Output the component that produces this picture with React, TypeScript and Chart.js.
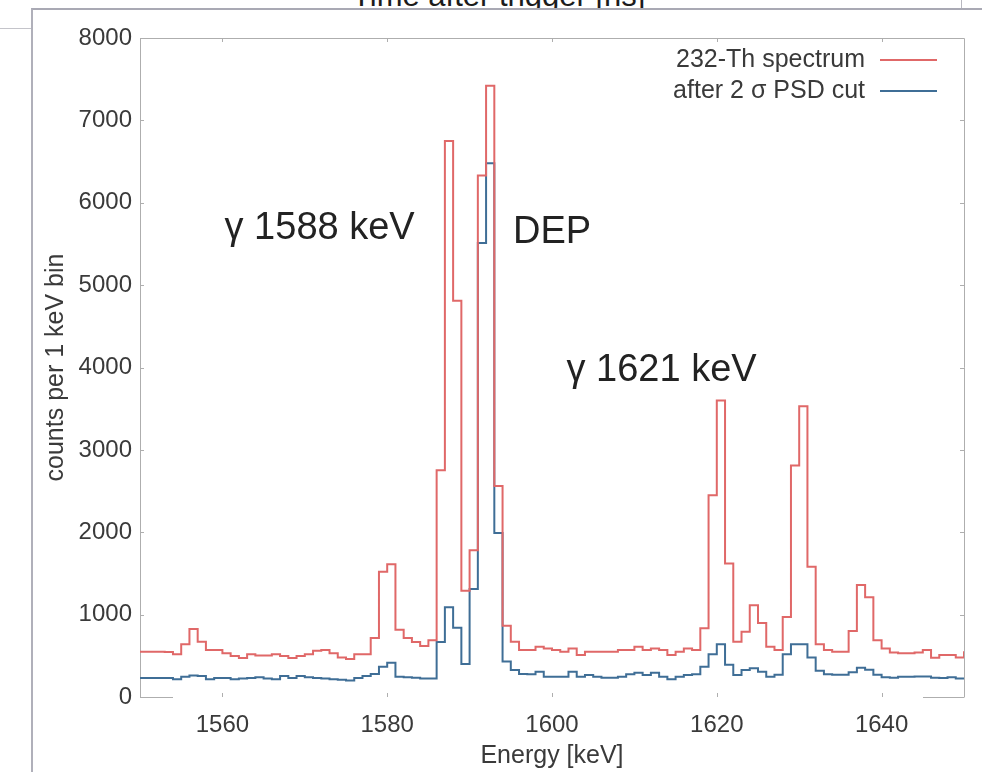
import React, { useEffect, useRef } from "react";
import { Chart, registerables } from "chart.js";

Chart.register(...registerables);

// ---- axis set-up -------------------------------------------------------
const BIN_START = 1550; // keV, lower edge of the first 1 keV bin
const BIN_WIDTH = 1;
const X_MIN = 1550;
const X_MAX = 1650;
const Y_MIN = 0;
const Y_MAX = 8000;
const X_TICKS = [1560, 1580, 1600, 1620, 1640];
const Y_TICKS = [0, 1000, 2000, 3000, 4000, 5000, 6000, 7000, 8000];
const X_TITLE = "Energy [keV]";
const Y_TITLE = "counts per 1 keV bin";
const PAGE_TITLE = "Time after trigger [ns]";

// ---- series --------------------------------------------------------------
const SERIES_NAMES = ["232-Th spectrum", "after 2 σ PSD cut"];

// counts per bin, bins 1550..1649 keV
const thSpectrum = [
  550, 550, 545, 520, 640, 824, 670, 570, 570, 530,
  497, 473, 520, 505, 505, 520, 497, 473, 497, 520,
  560, 570, 530, 480, 460, 520, 520, 715, 1519, 1612,
  816, 716, 667, 618, 690, 2754, 6750, 4810, 1290, 1780,
  6330, 7420, 2560, 865, 670, 570, 570, 610, 590, 570,
  550, 590, 510, 550, 550, 550, 550, 570, 570, 610,
  570, 590, 570, 510, 550, 590, 570, 836, 2450, 3600,
  1620, 670, 792, 1115, 897, 610, 570, 970, 2810, 3530,
  1580, 640, 570, 550, 550, 800, 1360, 1210, 690, 590,
  540, 530, 530, 540, 570, 475, 510, 510, 480, 555,
];

const psdCut = [
  230, 230, 230, 215, 245, 260, 255, 215, 230, 230,
  215, 225, 230, 240, 225, 215, 255, 230, 255, 240,
  230, 225, 215, 210, 200, 230, 255, 280, 367, 416,
  246, 240, 235, 225, 225, 667, 1090, 841, 400, 1310,
  5510, 6480, 1990, 430, 327, 280, 275, 307, 246, 246,
  246, 307, 246, 266, 246, 234, 234, 246, 275, 295,
  266, 295, 246, 214, 246, 266, 275, 367, 520, 640,
  390, 266, 327, 350, 307, 246, 270, 520, 640, 640,
  480, 320, 275, 270, 270, 300, 355, 330, 270, 240,
  235, 245, 245, 250, 250, 235, 230, 240, 225, 235,
];

// ---- text annotations (data coordinates) --------------------------------
const ANNOTATION_TEXTS = ["γ 1588 keV", "DEP", "γ 1621 keV"];
const ANNOTATION_X = [1571.8, 1600.0, 1613.3];
const ANNOTATION_Y = [5685, 5636, 3964];

// ---- styles ---------------------------------------------------------------
const FONT = '"Liberation Sans", Arial, Helvetica, sans-serif';
const RED = "#e06868";
const BLUE = "#3f6e96";
const FRAME = "#aeaeae";
const TEXT = "#3a3a3a";

function toSteps(values: number[]) {
  // histogram outline: each bin value is held from its lower to its upper edge
  const pts = values.map((v, i) => ({ x: BIN_START + (i + 1) * BIN_WIDTH, y: v }));
  pts.unshift({ x: BIN_START, y: values[0] });
  return pts;
}

const decorPlugin = {
  id: "decor",
  afterDraw(chart: any) {
    const { ctx, chartArea } = chart;
    const { left, right, top, bottom } = chartArea;
    const xs = chart.scales.x;
    const ys = chart.scales.y;
    ctx.save();
    // frame: top and right
    ctx.strokeStyle = FRAME;
    ctx.lineWidth = 1;
    ctx.beginPath();
    ctx.moveTo(left, top + 0.5);
    ctx.lineTo(right + 0.5, top + 0.5);
    ctx.lineTo(right + 0.5, bottom);
    ctx.stroke();
    // bottom border remnants
    ctx.beginPath();
    ctx.moveTo(left, bottom + 0.5);
    ctx.lineTo(left + 33, bottom + 0.5);
    ctx.moveTo(right - 41, bottom + 0.5);
    ctx.lineTo(right + 0.5, bottom + 0.5);
    ctx.stroke();
    // inward tick marks
    ctx.beginPath();
    const tl = 4;
    Y_TICKS.forEach((v) => {
      const y = Math.round(ys.getPixelForValue(v)) + 0.5;
      ctx.moveTo(left, y);
      ctx.lineTo(left + tl, y);
      ctx.moveTo(right, y);
      ctx.lineTo(right - tl, y);
    });
    X_TICKS.forEach((v) => {
      const x = Math.round(xs.getPixelForValue(v)) + 0.5;
      ctx.moveTo(x, bottom);
      ctx.lineTo(x, bottom - tl);
      ctx.moveTo(x, top);
      ctx.lineTo(x, top + tl);
    });
    ctx.stroke();

    // legend (text, then line sample)
    ctx.font = `25px ${FONT}`;
    ctx.fillStyle = TEXT;
    ctx.textAlign = "right";
    ctx.textBaseline = "middle";
    const colors = [RED, BLUE];
    SERIES_NAMES.forEach((name, i) => {
      const y = top + 22 + i * 31;
      ctx.fillText(name, right - 99, y);
      ctx.strokeStyle = colors[i];
      ctx.lineWidth = 2;
      ctx.beginPath();
      ctx.moveTo(right - 84, y);
      ctx.lineTo(right - 27, y);
      ctx.stroke();
    });

    // annotations
    ctx.font = `38px ${FONT}`;
    ctx.fillStyle = "#222";
    ctx.textAlign = "center";
    ctx.textBaseline = "middle";
    ANNOTATION_TEXTS.forEach((t, i) => {
      ctx.fillText(t, xs.getPixelForValue(ANNOTATION_X[i]), ys.getPixelForValue(ANNOTATION_Y[i]));
    });
    ctx.restore();
  },
};

export default function App() {
  const ref = useRef<HTMLCanvasElement | null>(null);

  useEffect(() => {
    if (!ref.current) return;
    Chart.defaults.font.family = FONT;
    const chart = new Chart(ref.current, {
      type: "line",
      data: {
        datasets: [
          {
            label: SERIES_NAMES[0],
            data: toSteps(thSpectrum),
            borderColor: RED,
            borderWidth: 2,
            stepped: "before",
            pointRadius: 0,
            fill: false,
          },
          {
            label: SERIES_NAMES[1],
            data: toSteps(psdCut),
            borderColor: BLUE,
            borderWidth: 2,
            stepped: "before",
            pointRadius: 0,
            fill: false,
          },
        ],
      },
      options: {
        animation: false,
        responsive: false,
        maintainAspectRatio: false,
        layout: { padding: { left: 0, top: 38, right: 18, bottom: 0 } },
        plugins: { legend: { display: false }, tooltip: { enabled: false } },
        scales: {
          x: {
            type: "linear",
            min: X_MIN,
            max: X_MAX,
            afterBuildTicks: (s: any) => {
              s.ticks = X_TICKS.map((v) => ({ value: v }));
            },
            afterFit: (s: any) => {
              s.height = 75;
            },
            grid: { display: false, drawTicks: false },
            border: { display: false },
            ticks: {
              autoSkip: false,
              maxRotation: 0,
              padding: 14,
              color: TEXT,
              font: { size: 24, family: FONT },
              callback: (v: any) => String(v),
            },
            title: {
              display: true,
              text: X_TITLE,
              color: TEXT,
              font: { size: 25, family: FONT },
              padding: { top: 0, bottom: 1 },
            },
          },
          y: {
            type: "linear",
            min: Y_MIN,
            max: Y_MAX,
            afterBuildTicks: (s: any) => {
              s.ticks = Y_TICKS.map((v) => ({ value: v }));
            },
            afterFit: (s: any) => {
              s.width = 140;
            },
            grid: { display: false, drawTicks: false },
            border: { display: true, color: FRAME, width: 1 },
            ticks: {
              padding: 8,
              color: TEXT,
              font: { size: 24, family: FONT },
              callback: (v: any) => String(v),
            },
            title: {
              display: true,
              text: Y_TITLE,
              color: TEXT,
              font: { size: 25, family: FONT },
              padding: { top: 41, bottom: 0 },
            },
          },
        },
      },
      plugins: [decorPlugin],
    });
    return () => {
      chart.destroy();
    };
  }, []);

  return (
    <div
      style={{
        position: "fixed",
        left: 0,
        top: 0,
        width: 982,
        height: 772,
        background: "#ffffff",
        overflow: "hidden",
      }}
    >
      <div
        style={{
          position: "absolute",
          left: 352,
          top: -20,
          whiteSpace: "nowrap",
          fontFamily: FONT,
          fontSize: 31,
          lineHeight: "31px",
          color: "#1c1c1c",
        }}
      >
        {PAGE_TITLE}
      </div>
      <div style={{ position: "absolute", left: 0, top: 28, width: 31, height: 1, background: "#c4c4ca" }} />
      <div style={{ position: "absolute", left: 961, top: 0, width: 1, height: 8, background: "#b8b8c0" }} />
      <div
        style={{
          position: "absolute",
          left: 31,
          top: 8,
          width: 1000,
          height: 800,
          borderTop: "2px solid #a9a9b4",
          borderLeft: "2px solid #b0b0ba",
          background: "#ffffff",
        }}
      />
      <canvas
        ref={ref}
        width={982}
        height={772}
        style={{ position: "absolute", left: 0, top: 0, width: 982, height: 772 }}
      />
    </div>
  );
}
